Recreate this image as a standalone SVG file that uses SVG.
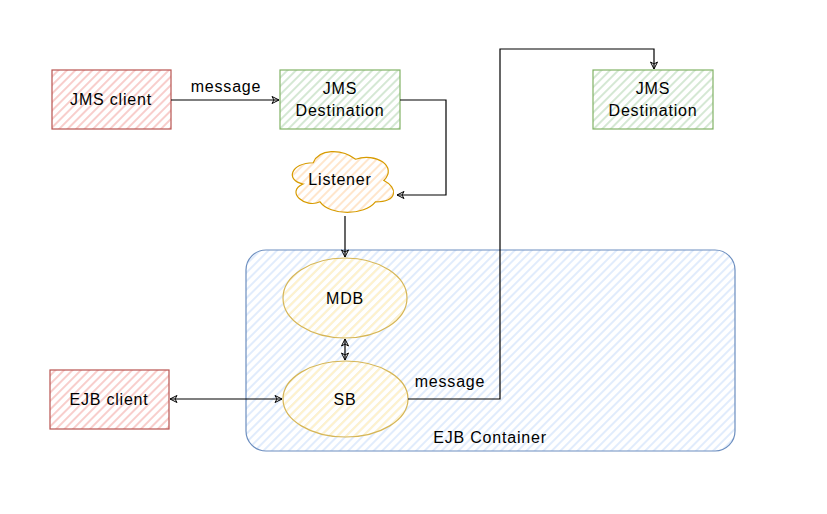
<svg xmlns="http://www.w3.org/2000/svg" width="827" height="514" viewBox="0 0 827 514">
<defs>
<pattern id="hRed" width="6" height="6" patternUnits="userSpaceOnUse" patternTransform="rotate(45)"><line x1="1" y1="0" x2="1" y2="6" stroke="#f8cecc" stroke-width="2"/></pattern>
<pattern id="hGreen" width="6" height="6" patternUnits="userSpaceOnUse" patternTransform="rotate(45)"><line x1="1" y1="0" x2="1" y2="6" stroke="#d5e8d4" stroke-width="2"/></pattern>
<pattern id="hOrange" width="6" height="6" patternUnits="userSpaceOnUse" patternTransform="rotate(45)"><line x1="1" y1="0" x2="1" y2="6" stroke="#ffe6cc" stroke-width="2"/></pattern>
<pattern id="hYellow" width="6" height="6" patternUnits="userSpaceOnUse" patternTransform="rotate(45)"><line x1="1" y1="0" x2="1" y2="6" stroke="#fff2cc" stroke-width="2.2"/></pattern>
<pattern id="hBlue" width="6" height="6" patternUnits="userSpaceOnUse" patternTransform="rotate(45)"><line x1="1" y1="0" x2="1" y2="6" stroke="#dae8fc" stroke-width="1.6"/></pattern>
<marker id="arr" markerWidth="10" markerHeight="10" refX="8" refY="5" orient="auto-start-reverse" markerUnits="userSpaceOnUse"><path d="M1,1.5 L8,5 L1,8.5 L3,5 Z" fill="none" stroke="#000" stroke-width="1"/></marker>
<style>
text{font-family:"Liberation Sans",Arial,sans-serif;font-size:16px;letter-spacing:0.8px;fill:#000;text-anchor:middle;dominant-baseline:central}
.c{fill:none;stroke:#000;stroke-width:1.2}
</style>
</defs>
<rect width="827" height="514" fill="#fff"/>
<g id="ejb-container">
<rect x="246" y="250" width="489" height="201" rx="20" fill="url(#hBlue)" stroke="#6c8ebf" stroke-width="1.2"/>
<text x="490" y="437">EJB Container</text>
</g>
<g id="jms-client">
<rect x="52" y="70" width="119" height="59" fill="url(#hRed)" stroke="#b85450" stroke-width="1.2"/>
<text x="111" y="99.5">JMS client</text>
</g>
<g id="jms-destination-1">
<rect x="280" y="70" width="120" height="59" fill="url(#hGreen)" stroke="#82b366" stroke-width="1.2"/>
<text x="340" y="88">JMS</text>
<text x="340" y="110">Destination</text>
</g>
<g id="jms-destination-2">
<rect x="593" y="70" width="120" height="59" fill="url(#hGreen)" stroke="#82b366" stroke-width="1.2"/>
<text x="653" y="88">JMS</text>
<text x="653" y="110">Destination</text>
</g>
<g id="listener">
<path d="M313.25,162.75 C290.65,162.75 285,180.5 303.08,184.05 C285,191.86 305.34,208.9 320.03,201.8 C330.2,216 364.1,216 375.4,201.8 C398,201.8 398,187.6 383.88,180.5 C398,166.3 375.4,152.1 355.63,159.2 C341.5,148.55 318.9,148.55 313.25,162.75 Z" fill="url(#hOrange)" stroke="#d79b00" stroke-width="1.2"/>
<text x="340" y="179">Listener</text>
</g>
<g id="mdb">
<ellipse cx="345" cy="298" rx="62" ry="40" fill="url(#hYellow)" stroke="#d6b656" stroke-width="1.2"/>
<text x="345" y="298">MDB</text>
</g>
<g id="sb">
<ellipse cx="345.5" cy="399" rx="62.5" ry="38" fill="url(#hYellow)" stroke="#d6b656" stroke-width="1.2"/>
<text x="345" y="399">SB</text>
</g>
<g id="ejb-client">
<rect x="50" y="370" width="119" height="59" fill="url(#hRed)" stroke="#b85450" stroke-width="1.2"/>
<text x="109" y="399.5">EJB client</text>
</g>
<g id="connectors">
<path class="c" d="M171,100 L279,100" marker-end="url(#arr)"/>
<text x="226" y="86">message</text>
<path class="c" d="M400,100 L446,100 L446,195 L397,195" marker-end="url(#arr)"/>
<path class="c" d="M345,216 L345,257" marker-end="url(#arr)"/>
<path class="c" d="M345,339 L345,360" marker-start="url(#arr)" marker-end="url(#arr)"/>
<path class="c" d="M170,399 L282,399" marker-start="url(#arr)" marker-end="url(#arr)"/>
<path class="c" d="M408,399 L500,399 L500,49 L654,49 L654,69" marker-end="url(#arr)"/>
<text x="450" y="381">message</text>
</g>
</svg>
